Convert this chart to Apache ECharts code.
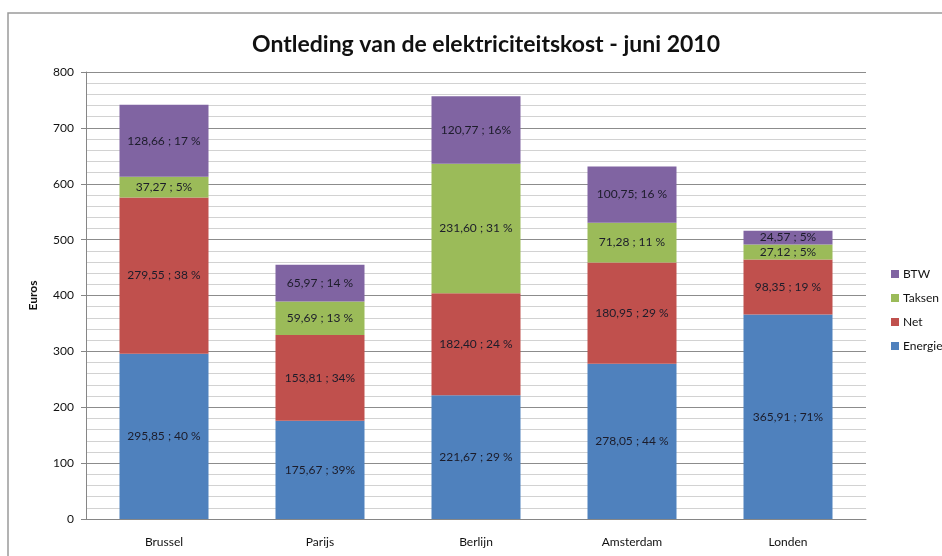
<!DOCTYPE html>
<html>
<head>
<meta charset="utf-8">
<title>Ontleding van de elektriciteitskost - juni 2010</title>
<script src="https://cdn.jsdelivr.net/npm/echarts@6/dist/echarts.min.js"></script>
<style>
    html, body { margin: 0; padding: 0; background: #fff; }
    #costChart { width: 942px; height: 556px; }
</style>
</head>
<body>
<div id="costChart"></div>
<script>
// Chart data
const cities = ['Brussel', 'Parijs', 'Berlijn', 'Amsterdam', 'Londen'];
const energie = [295.85, 175.67, 221.67, 278.05, 365.91];
const net = [279.55, 153.81, 182.40, 180.95, 98.35];
const taksen = [37.27, 59.69, 231.60, 71.28, 27.12];
const btw = [128.66, 65.97, 120.77, 100.75, 24.57];

// Label texts as printed on the bars
const energieLabels = ['295,85 ; 40 %', '175,67 ; 39%', '221,67 ; 29 %', '278,05 ; 44 %', '365,91 ; 71%'];
const netLabels = ['279,55 ; 38 %', '153,81 ; 34%', '182,40 ; 24 %', '180,95 ; 29 %', '98,35 ; 19 %'];
const taksenLabels = ['37,27 ; 5%', '59,69 ; 13 %', '231,60 ; 31 %', '71,28 ; 11 %', '27,12 ; 5%'];
const btwLabels = ['128,66 ; 17 %', '65,97 ; 14 %', '120,77 ; 16%', '100,75; 16 %', '24,57 ; 5%'];

const yTicks = [0, 100, 200, 300, 400, 500, 600, 700, 800];

document.addEventListener('DOMContentLoaded', function() {
    const chartDom = document.getElementById('costChart');
    const myChart = echarts.init(chartDom);

    // Build one stacked bar series
    function makeSeries(name, values, labels, color) {
        return {
            name: name,
            type: 'bar',
            stack: 'kost',
            barWidth: 89,
            data: values,
            itemStyle: { color: color },
            label: {
                show: true,
                position: 'inside',
                color: '#1c1c2a',
                fontFamily: 'Lato',
                fontSize: 12,
                formatter: function(p) { return labels[p.dataIndex]; }
            }
        };
    }

    const option = {
        animation: false,
        backgroundColor: '#fff',
        textStyle: { fontFamily: 'Lato' },
        title: {
            text: 'Ontleding van de elektriciteitskost - juni 2010',
            left: 481,
            textAlign: 'center',
            top: 28,
            textStyle: {
                fontFamily: 'Lato',
                fontSize: 23,
                fontWeight: 'bold',
                color: '#111'
            }
        },
        legend: {
            orient: 'vertical',
            left: 886,
            top: 263,
            itemWidth: 8,
            itemHeight: 8,
            itemGap: 12,
            icon: 'rect',
            data: ['BTW', 'Taksen', 'Net', 'Energie'],
            textStyle: { fontFamily: 'Lato', fontSize: 12, color: '#111', padding: [0, 0, 0, -1] }
        },
        grid: {
            left: 86,
            right: 76,
            top: 72,
            bottom: 37
        },
        graphic: [{
            type: 'rect',
            shape: { x: 8, y: 13, width: 1000, height: 600 },
            style: { fill: 'none', stroke: '#9a9a9a', lineWidth: 1.5 },
            silent: true
        }],
        xAxis: {
            type: 'category',
            data: cities,
            axisLine: { lineStyle: { color: '#868686' } },
            axisTick: { show: false },
            axisLabel: { color: '#111', fontSize: 12, margin: 17 }
        },
        yAxis: {
            type: 'value',
            name: 'Euros',
            nameLocation: 'middle',
            nameGap: 47,
            nameTextStyle: { fontWeight: 'bold', fontSize: 12, color: '#111' },
            min: yTicks[0],
            max: yTicks[yTicks.length - 1],
            interval: 100,
            axisLine: { show: true, lineStyle: { color: '#868686' } },
            axisTick: { show: true, length: 5, lineStyle: { color: '#868686' } },
            axisLabel: { color: '#111', fontSize: 12, margin: 12 },
            splitLine: { lineStyle: { color: '#8c8c8c' } },
            minorTick: { show: false, splitNumber: 5 },
            minorSplitLine: { show: true, lineStyle: { color: '#d2d2d2' } }
        },
        series: [
            makeSeries('Energie', energie, energieLabels, '#4f81bd'),
            makeSeries('Net', net, netLabels, '#c0504d'),
            makeSeries('Taksen', taksen, taksenLabels, '#9bbb59'),
            makeSeries('BTW', btw, btwLabels, '#8064a2')
        ]
    };
    myChart.setOption(option);
});
</script>
</body>
</html>
